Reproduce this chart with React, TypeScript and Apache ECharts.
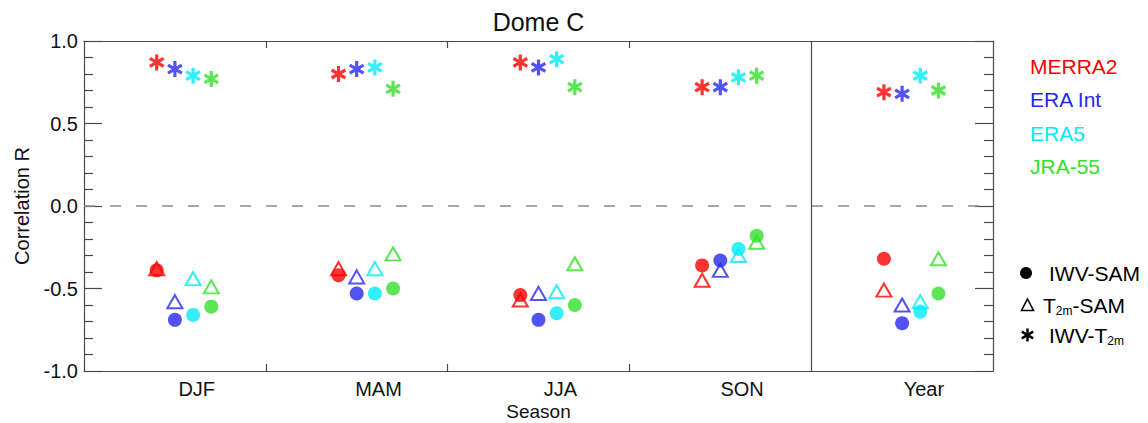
import React, { useEffect, useRef } from 'react'
import * as echarts from 'echarts'

// seasons along the x axis, one panel each
const seasons = ['DJF', 'MAM', 'JJA', 'SON', 'Year']
const reanalyses = ['MERRA2', 'ERA Int', 'ERA5', 'JRA-55']
const colors = ['#ff0000', '#2828f0', '#00ebf5', '#33e02a']
// x offset of each reanalysis inside a season slot
const offsets = [0.4, 0.5, 0.6, 0.7]
const yTicks = [-1.0, -0.5, 0.0, 0.5, 1.0]

// IWV-SAM (filled circles)
const merra2IwvSam = [-0.39, -0.42, -0.54, -0.36, -0.32]
const eraIntIwvSam = [-0.69, -0.53, -0.69, -0.33, -0.71]
const era5IwvSam = [-0.66, -0.53, -0.65, -0.26, -0.64]
const jra55IwvSam = [-0.61, -0.5, -0.6, -0.18, -0.53]

// T2m-SAM (open triangles)
const merra2T2mSam = [-0.38, -0.38, -0.57, -0.45, -0.51]
const eraIntT2mSam = [-0.58, -0.43, -0.53, -0.39, -0.6]
const era5T2mSam = [-0.44, -0.38, -0.52, -0.3, -0.58]
const jra55T2mSam = [-0.49, -0.29, -0.35, -0.22, -0.32]

// IWV-T2m (asterisks)
const merra2IwvT2m = [0.87, 0.8, 0.87, 0.72, 0.69]
const eraIntIwvT2m = [0.83, 0.83, 0.84, 0.72, 0.68]
const era5IwvT2m = [0.79, 0.84, 0.89, 0.78, 0.79]
const jra55IwvT2m = [0.77, 0.71, 0.72, 0.79, 0.7]

const iwvSam = [merra2IwvSam, eraIntIwvSam, era5IwvSam, jra55IwvSam]
const t2mSam = [merra2T2mSam, eraIntT2mSam, era5T2mSam, jra55T2mSam]
const iwvT2m = [merra2IwvT2m, eraIntIwvT2m, era5IwvT2m, jra55IwvT2m]

const FONT = '"Liberation Sans", Arial, Helvetica, sans-serif'
const AXIS_COLOR = '#4a4a4a'
// six-armed asterisk built from three filled bars (same winding so the centre stays filled)
const ASTERISK =
    'path://M-2,-10L2,-10L2,10L-2,10Z' +
    'M-9.66,-3.27L-7.66,-6.73L9.66,3.27L7.66,6.73Z' +
    'M-7.66,6.73L-9.66,3.27L7.66,-6.73L9.66,-3.27Z'

const App = () => {
    const chartRef = useRef<HTMLDivElement>(null)

    useEffect(() => {
        if (!chartRef.current) return
        const chart = echarts.init(chartRef.current, null, { renderer: 'svg' })

        const toPoints = (vals: number[], k: number) =>
            vals.map((v, i) => [i + offsets[k], v])

        const series: any[] = []
        // triangles first, circles on top, then asterisks
        t2mSam.forEach((vals, k) => {
            series.push({
                name: reanalyses[k] + ' T2m-SAM',
                type: 'scatter',
                data: toPoints(vals, k),
                symbol: 'triangle',
                symbolSize: [15, 13],
                itemStyle: { color: 'rgba(0,0,0,0)', borderColor: colors[k], borderWidth: 2 },
                silent: true,
            })
        })
        iwvSam.forEach((vals, k) => {
            series.push({
                name: reanalyses[k] + ' IWV-SAM',
                type: 'scatter',
                data: toPoints(vals, k),
                symbol: 'circle',
                symbolSize: 14,
                itemStyle: { color: colors[k] },
                silent: true,
            })
        })
        iwvT2m.forEach((vals, k) => {
            series.push({
                name: reanalyses[k] + ' IWV-T2m',
                type: 'scatter',
                data: toPoints(vals, k),
                symbol: ASTERISK,
                symbolKeepAspect: true,
                symbolSize: 16,
                itemStyle: { color: colors[k] },
                silent: true,
            })
        })
        // zero line and the divider before the annual panel
        series[0].markLine = {
            silent: true,
            symbol: 'none',
            label: { show: false },
            animation: false,
            data: [
                { yAxis: 0, lineStyle: { type: [11, 15], color: '#8a8a8a', width: 1.5 } },
                { xAxis: 4, lineStyle: { type: 'solid', color: AXIS_COLOR, width: 1.2 } },
            ],
        }

        const xBase = {
            type: 'value',
            min: 0,
            max: seasons.length,
            splitLine: { show: false },
            axisLine: { show: true, onZero: false, lineStyle: { color: AXIS_COLOR, width: 1.2 } },
            axisTick: {
                show: true,
                inside: true,
                length: 7,
                customValues: [1, 2, 3],
                lineStyle: { color: AXIS_COLOR, width: 1.2 },
            },
        }
        const yBase = {
            type: 'value',
            min: -1,
            max: 1,
            interval: 0.5,
            splitLine: { show: false },
            axisLine: { show: true, onZero: false, lineStyle: { color: AXIS_COLOR, width: 1.2 } },
            axisTick: { show: true, inside: true, length: 18, lineStyle: { color: AXIS_COLOR, width: 1.2 } },
            minorTick: { show: true, splitNumber: 5, length: 9, lineStyle: { color: AXIS_COLOR, width: 1.2 } },
        }

        const legendTop = reanalyses.map((name, k) => ({
            type: 'text',
            x: 1030,
            y: 66 + k * 33.5,
            style: {
                text: name,
                fill: colors[k],
                font: `21px ${FONT}`,
                textVerticalAlign: 'middle',
            },
        }))

        const rich = {
            n: { fontSize: 21, fontFamily: FONT, color: '#111', lineHeight: 24 },
            s: { fontSize: 12, fontFamily: FONT, color: '#111', lineHeight: 12, verticalAlign: 'bottom' },
        }
        const legendBottom: any[] = [
            { type: 'circle', shape: { cx: 1026, cy: 273, r: 6 }, style: { fill: '#000' } },
            {
                type: 'text',
                x: 1049,
                y: 273,
                style: { text: '{n|IWV-SAM}', rich, textVerticalAlign: 'middle' },
            },
            {
                type: 'polygon',
                shape: { points: [[1027.5, 299], [1033.5, 310.5], [1021.5, 310.5]] },
                style: { fill: 'none', stroke: '#000', lineWidth: 1.6 },
            },
            {
                type: 'text',
                x: 1043,
                y: 305,
                style: { text: '{n|T}{s|2m}{n|-SAM}', rich, textVerticalAlign: 'middle' },
            },
            { type: 'line', shape: { x1: 1027.5, y1: 328.5, x2: 1027.5, y2: 341.5 }, style: { stroke: '#000', lineWidth: 2.5 } },
            { type: 'line', shape: { x1: 1021.8, y1: 331.7, x2: 1033.2, y2: 338.3 }, style: { stroke: '#000', lineWidth: 2.5 } },
            { type: 'line', shape: { x1: 1021.8, y1: 338.3, x2: 1033.2, y2: 331.7 }, style: { stroke: '#000', lineWidth: 2.5 } },
            {
                type: 'text',
                x: 1049,
                y: 335,
                style: { text: '{n|IWV-T}{s|2m}', rich, textVerticalAlign: 'middle' },
            },
        ]

        const option = {
            animation: false,
            backgroundColor: '#fff',
            grid: {
                left: 84,
                top: 41,
                width: 909,
                height: 330,
                containLabel: false,
                outerBoundsMode: 'none',
            },
            xAxis: [
                {
                    ...xBase,
                    position: 'bottom',
                    name: 'Season',
                    nameLocation: 'middle',
                    nameGap: 31,
                    nameMoveOverlap: false,
                    nameTextStyle: { fontSize: 19, fontFamily: FONT, color: '#111' },
                    axisLabel: {
                        show: true,
                        customValues: seasons.map((_, i) => i + 0.62),
                        formatter: (v: number) => seasons[Math.floor(v)] || '',
                        fontSize: 20,
                        fontFamily: FONT,
                        color: '#111',
                        margin: 8,
                    },
                },
                { ...xBase, position: 'top', axisLabel: { show: false } },
            ],
            yAxis: [
                {
                    ...yBase,
                    position: 'left',
                    name: 'Correlation R',
                    nameLocation: 'middle',
                    nameGap: 52,
                    nameMoveOverlap: false,
                    nameTextStyle: { fontSize: 20, fontFamily: FONT, color: '#111' },
                    axisLabel: {
                        show: true,
                        customValues: yTicks,
                        formatter: (v: number) => v.toFixed(1),
                        fontSize: 20,
                        fontFamily: FONT,
                        color: '#111',
                        margin: 6,
                    },
                },
                { ...yBase, position: 'right', axisLabel: { show: false } },
            ],
            series,
            graphic: [
                {
                    type: 'text',
                    x: 538.5,
                    y: 22,
                    style: {
                        text: 'Dome C',
                        fill: '#111',
                        font: `25px ${FONT}`,
                        textAlign: 'center',
                        textVerticalAlign: 'middle',
                    },
                },
                ...legendTop,
                ...legendBottom,
            ],
        }

        try {
            chart.setOption(option as any)
        } catch (err) {
            console.error('Error setting chart options:', err)
        }

        return () => {
            chart.dispose()
        }
    }, [])

    return (
        <div
            ref={chartRef}
            style={{ position: 'absolute', left: 0, top: 0, width: '1148px', height: '423px' }}
        />
    )
}

export default App
